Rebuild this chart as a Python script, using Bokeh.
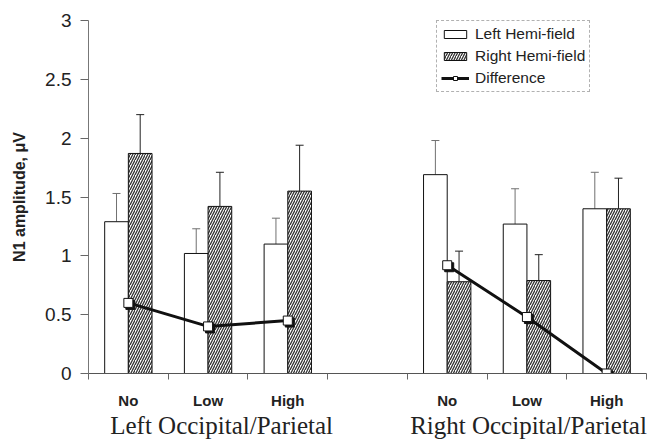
from bokeh.plotting import figure
from bokeh.models import (ColumnDataSource, Range1d, FixedTicker, Whisker, TeeHead,
                          Legend, LegendItem, LinearAxis)
from bokeh.transform import dodge
from bokeh.embed import file_html
from bokeh.resources import INLINE

# ---------------- data ----------------
conditions = ["No", "Low", "High"]
regions = ["Left Occipital/Parietal", "Right Occipital/Parietal"]

left_field = [1.29, 1.02, 1.10, 1.69, 1.27, 1.40]
left_field_err = [0.24, 0.21, 0.22, 0.29, 0.30, 0.31]
right_field = [1.87, 1.42, 1.55, 0.78, 0.79, 1.40]
right_field_err = [0.33, 0.29, 0.39, 0.26, 0.22, 0.26]
difference = [0.60, 0.40, 0.45, 0.92, 0.48, 0.00]

y_ticks = [0, 0.5, 1, 1.5, 2, 2.5, 3]
y_tick_labels = ["0", "0.5", "1", "1.5", "2", "2.5", "3"]

# ---------------- layout helpers ----------------
n_cond = len(conditions)
n_slots = len(regions) * (n_cond + 1) - 1
slots = [g * (n_cond + 1) + c + 0.5 for g in range(len(regions)) for c in range(n_cond)]
bar_w = 0.297

src = ColumnDataSource(dict(
    x=slots,
    xl=[s - bar_w / 2 for s in slots],
    xr=[s + bar_w / 2 for s in slots],
    left=left_field,
    left_top=[v + e for v, e in zip(left_field, left_field_err)],
    right=right_field,
    right_top=[v + e for v, e in zip(right_field, right_field_err)],
    diff=difference,
))

p = figure(width=653, height=441, x_range=Range1d(0, n_slots), y_range=Range1d(0, 3),
           output_backend="svg", toolbar_location=None,
           min_border_left=88, min_border_right=7, min_border_top=20, min_border_bottom=68)
p.xgrid.visible = False
p.ygrid.visible = False
p.outline_line_color = None
p.background_fill_color = "white"

# bars
r_left = p.vbar(x="xl", top="left", width=bar_w, source=src,
                fill_color="white", line_color="#111", line_width=1)
r_right = p.vbar(x="xr", top="right", width=bar_w, source=src,
                 fill_color="white", line_color="#111", line_width=1,
                 hatch_pattern="/", hatch_color="#333", hatch_scale=5, hatch_weight=1.3)

# error bars (upper only)
p.add_layout(Whisker(base="xl", lower="left", upper="left_top", source=src,
                     lower_head=None,
                     upper_head=TeeHead(size=8, line_color="#707070", line_width=1),
                     line_color="#707070", line_width=1))
p.add_layout(Whisker(base="xr", lower="right", upper="right_top", source=src,
                     lower_head=None,
                     upper_head=TeeHead(size=8, line_color="#222", line_width=1),
                     line_color="#222", line_width=1))

# difference line
xs = [slots[g * n_cond:(g + 1) * n_cond] for g in range(len(regions))]
ys = [difference[g * n_cond:(g + 1) * n_cond] for g in range(len(regions))]
r_line = p.multi_line(xs=xs, ys=ys, line_color="#111", line_width=3)
p.scatter(x=dodge("x", 0.025), y=dodge("diff", -0.017), source=src, marker="square",
          size=9, fill_color="#111", line_color="#111")
r_mark = p.scatter(x="x", y="diff", source=src, marker="square", size=9,
                   fill_color="white", line_color="#111", line_width=1)

# axes
xa = p.xaxis[0]
xa.ticker = FixedTicker(ticks=slots, minor_ticks=list(range(n_slots + 1)))
xa.major_label_overrides = {s: conditions[i % n_cond] for i, s in enumerate(slots)}
xa.major_tick_out = 0
xa.major_tick_in = 0
xa.minor_tick_out = 6
xa.minor_tick_in = 0
xa.minor_tick_line_color = "#666"
xa.axis_line_color = "#555"
xa.major_label_standoff = 12
xa.major_label_text_font = "Liberation Sans"
xa.major_label_text_font_style = "bold"
xa.major_label_text_font_size = "15px"
xa.major_label_text_color = "#222"

# region labels as a second axis row
region_x = [1.67, 5.52]
xa2 = LinearAxis(ticker=FixedTicker(ticks=region_x, minor_ticks=[]),
                 major_label_overrides={rx: name for rx, name in zip(region_x, regions)},
                 axis_line_color=None, major_tick_line_color=None, minor_tick_line_color=None,
                 major_tick_out=0, major_tick_in=0, minor_tick_out=0, minor_tick_in=0,
                 major_label_standoff=0, major_label_text_font="Liberation Serif",
                 major_label_text_font_size="25px", major_label_text_color="#222")
p.add_layout(xa2, "below")

ya = p.yaxis[0]
ya.ticker = FixedTicker(ticks=y_ticks, minor_ticks=[])
ya.major_label_overrides = {t: l for t, l in zip(y_ticks, y_tick_labels)}
ya.major_tick_out = 8
ya.major_tick_in = 0
ya.major_tick_line_color = "#666"
ya.axis_line_color = "#777"
ya.major_label_standoff = 9
ya.major_label_text_font = "Liberation Sans"
ya.major_label_text_font_size = "19px"
ya.major_label_text_color = "#222"
ya.axis_label = "N1 amplitude, μV"
ya.axis_label_text_font = "Liberation Sans"
ya.axis_label_text_font_style = "bold"
ya.axis_label_text_font_size = "16px"
ya.axis_label_text_color = "#222"
ya.axis_label_standoff = 14

legend = Legend(items=[
    LegendItem(label="Left Hemi-field", renderers=[r_left]),
    LegendItem(label="Right Hemi-field", renderers=[r_right]),
    LegendItem(label="Difference", renderers=[r_line, r_mark]),
], location=(348, 281), border_line_color="#666", border_line_dash="dotted",
   border_line_width=1, label_text_font="Liberation Sans", label_text_font_size="15.5px",
   label_text_color="#222", glyph_width=28, glyph_height=10, label_height=18,
   spacing=4, padding=4, margin=0, label_standoff=6, background_fill_color="white")
p.add_layout(legend)

open("out.html", "w").write(file_html(p, INLINE))
